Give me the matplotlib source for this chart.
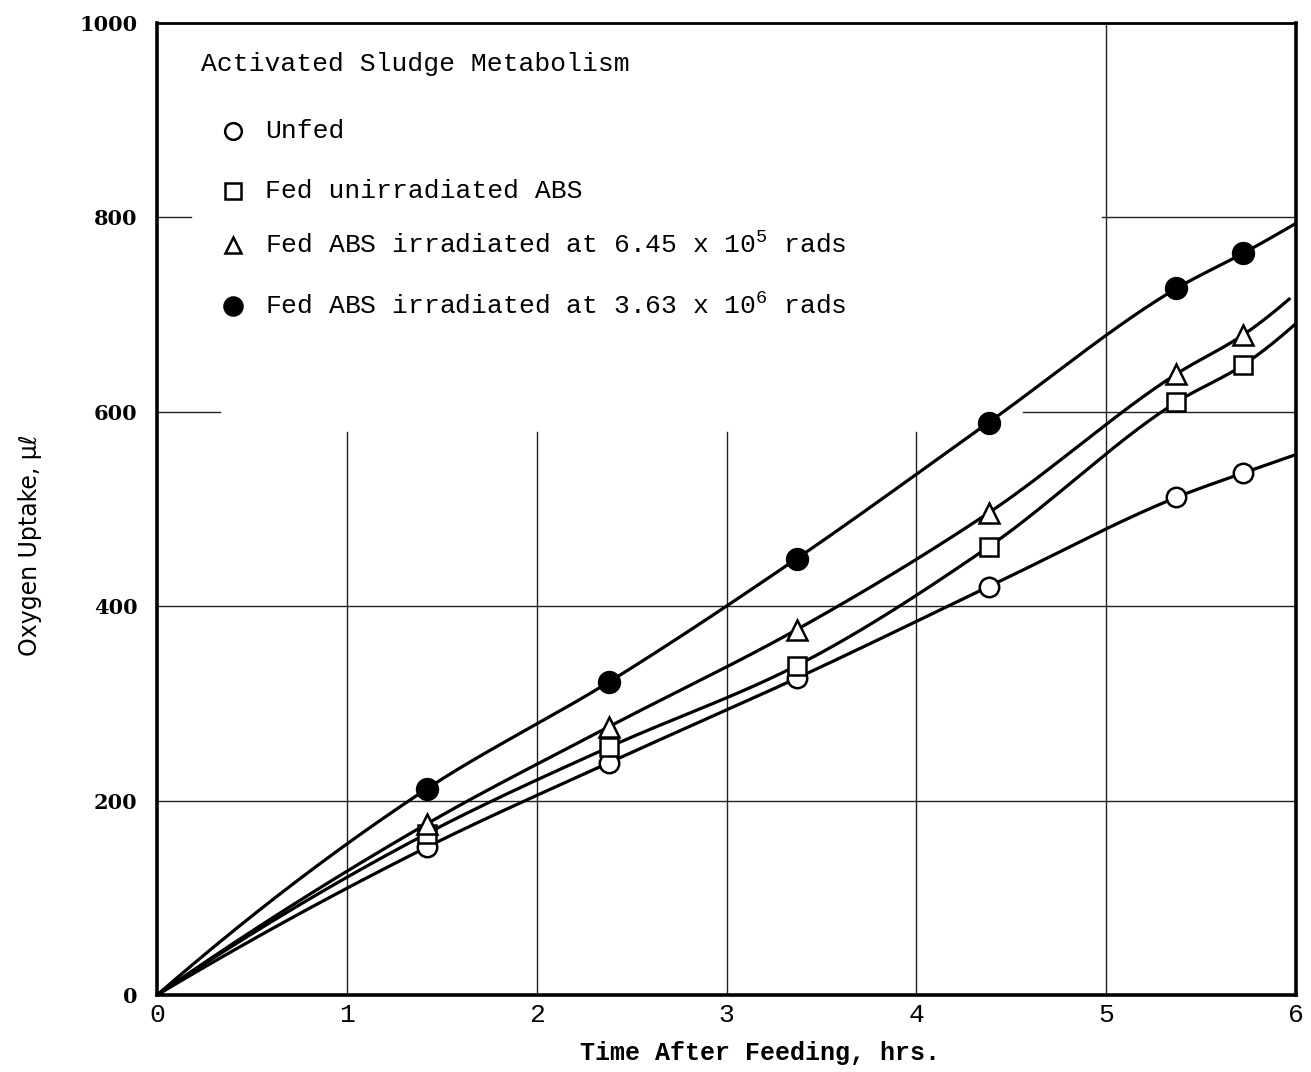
import numpy as np
import matplotlib
matplotlib.use("Agg")
import matplotlib.pyplot as plt

plt.rcParams['mathtext.fontset'] = 'custom'
plt.rcParams['mathtext.rm'] = 'Liberation Mono'
plt.rcParams['mathtext.it'] = 'Liberation Mono'
plt.rcParams['mathtext.default'] = 'rm'

# ---------------- data ----------------
time_hrs = [1.42, 2.38, 3.37, 4.38, 5.37, 5.72]
unfed = [152, 239, 326, 420, 512, 537]
fed_unirr = [166, 255, 339, 461, 610, 648]
fed_645e5 = [176, 276, 376, 496, 639, 679]
fed_363e6 = [212, 322, 449, 589, 727, 763]

# smooth curves start at the origin and run to the right edge
curve_start = (0.0, 0.0)
curve_end_x = [6.0, 6.0, 5.97, 6.0]
curve_end_y = [556, 691, 717, 794]

labels = ["Unfed",
          "Fed unirradiated ABS",
          "Fed ABS irradiated at 6.45 x 10$^{5}$ rads",
          "Fed ABS irradiated at 3.63 x 10$^{6}$ rads"]
legend_title = "Activated Sludge Metabolism"
xticks = [0, 1, 2, 3, 4, 5, 6]
yticks = [0, 200, 400, 600, 800, 1000]


def pchip(x, y, xn):
    x = np.asarray(x, float); y = np.asarray(y, float)
    h = np.diff(x); d = np.diff(y) / h
    n = len(x); m = np.zeros(n)
    for k in range(1, n - 1):
        if d[k - 1] * d[k] > 0:
            w1 = 2 * h[k] + h[k - 1]; w2 = h[k] + 2 * h[k - 1]
            m[k] = (w1 + w2) / (w1 / d[k - 1] + w2 / d[k])
    def endslope(h0, h1, d0, d1):
        s = ((2 * h0 + h1) * d0 - h0 * d1) / (h0 + h1)
        if np.sign(s) != np.sign(d0):
            s = 0.0
        elif np.sign(d0) != np.sign(d1) and abs(s) > abs(3 * d0):
            s = 3 * d0
        return s
    m[0] = endslope(h[0], h[1], d[0], d[1])
    m[-1] = endslope(h[-1], h[-2], d[-1], d[-2])
    idx = np.clip(np.searchsorted(x, xn) - 1, 0, n - 2)
    t = (xn - x[idx]) / h[idx]
    h00 = 2 * t**3 - 3 * t**2 + 1; h10 = t**3 - 2 * t**2 + t
    h01 = -2 * t**3 + 3 * t**2; h11 = t**3 - t**2
    return (h00 * y[idx] + h10 * h[idx] * m[idx] + h01 * y[idx + 1]
            + h11 * h[idx] * m[idx + 1])


fig = plt.figure(figsize=(13.11, 10.72), dpi=100)
ax = fig.add_axes([0.1198, 0.0718, 0.8688, 0.9067])
ax.set_xlim(0, 6)
ax.set_ylim(0, 1000)

# broken grid as in the original
gkw = dict(color='#222222', lw=1.0, zorder=1)
for xv in [1, 2, 3, 4]:
    ax.axvline(xv, 0, 0.579, **gkw)
ax.axvline(5, 0, 1, **gkw)
ax.axhline(200, 0, 1, **gkw)
ax.axhline(400, 0, 1, **gkw)
ax.axhline(600, 0, 0.055, **gkw)
ax.axhline(600, 0.76, 1, **gkw)
ax.axhline(800, 0, 0.03, **gkw)
ax.axhline(800, 0.83, 1, **gkw)

series = [unfed, fed_unirr, fed_645e5, fed_363e6]
styles = [dict(marker='o', mfc='white', ms=14),
          dict(marker='s', mfc='white', ms=13),
          dict(marker='^', mfc='white', ms=15),
          dict(marker='o', mfc='black', ms=15)]

for vals, ex, ey, st in zip(series, curve_end_x, curve_end_y, styles):
    kx = [curve_start[0]] + time_hrs + [ex]
    ky = [curve_start[1]] + vals + [ey]
    xs = np.linspace(0, ex, 400)
    ax.plot(xs, pchip(kx, ky, xs), color='black', lw=2.3, zorder=2,
            solid_capstyle='butt')
    ax.plot(time_hrs, vals, ls='none', mec='black', mew=1.8, zorder=3,
            clip_on=False, **st)

# legend drawn as text block
mono = ['Liberation Mono', 'DejaVu Sans Mono']
ax.text(0.23, 958, legend_title, family=mono, fontsize=19,
        va='center', ha='left', zorder=4)
leg_y = [889, 827, 772, 709]
leg_styles = [dict(marker='o', mfc='white', ms=12),
              dict(marker='s', mfc='white', ms=11),
              dict(marker='^', mfc='white', ms=12),
              dict(marker='o', mfc='black', ms=13)]
for yy, lab, st in zip(leg_y, labels, leg_styles):
    ax.plot([0.40], [yy], ls='none', mec='black', mew=1.8, **st)
    ax.text(0.57, yy, lab, family=mono, fontsize=19, va='center',
            ha='left')

# axes styling
for s in ax.spines.values():
    s.set_linewidth(2.6)
ax.spines['top'].set_linewidth(2.0)
ax.set_xticks(xticks)
ax.set_yticks(yticks)
ax.set_xticklabels([str(v) for v in xticks], family=mono, fontsize=19)
ax.set_yticklabels([str(v) for v in yticks], family='DejaVu Serif',
                   fontsize=15, fontweight='bold')
ax.tick_params(length=0, pad=14)
ax.tick_params(axis='x', pad=6)

ax.set_xlabel("Time After Feeding, hrs.", family=mono, fontsize=18,
              fontweight='bold')
ax.xaxis.set_label_coords(0.529, -0.047)
ax.set_ylabel("Oxygen Uptake, μℓ",
              family=['Liberation Sans Narrow', 'DejaVu Sans'], fontsize=17)
ax.yaxis.set_label_coords(-0.101, 0.463)

fig.savefig("out.png", dpi=100)
